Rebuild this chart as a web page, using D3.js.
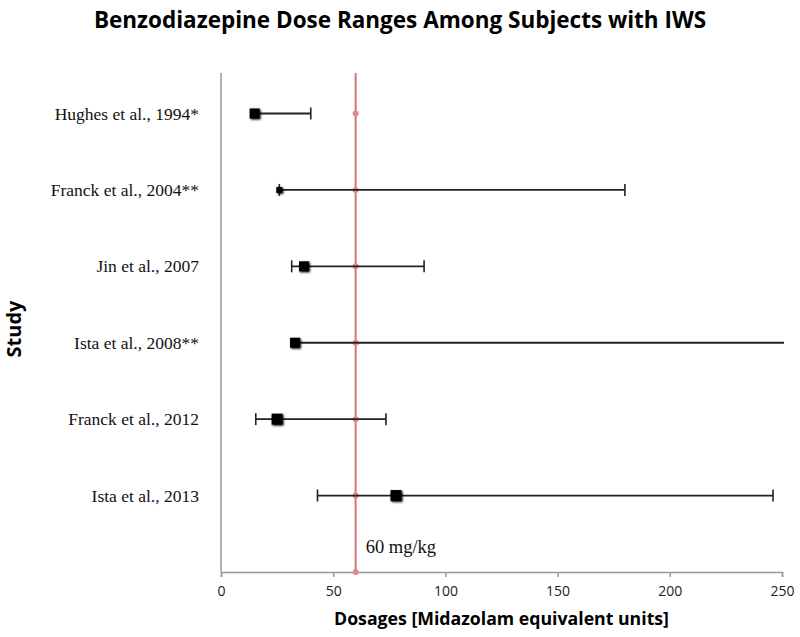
<!DOCTYPE html>
<html>
<head>
<meta charset="utf-8">
<script src="https://cdn.jsdelivr.net/npm/d3@7"></script>
<style>
  body { margin: 0; background: #fff; }
  .study { font-family: "Liberation Serif", "Times New Roman", serif; font-size: 17.5px; fill: #111; }
  .tick text { font-family: "Open Sans", sans-serif; font-size: 14px; fill: #222; }
</style>
</head>
<body>
<div id="chart"></div>
<script>
// study data (values in midazolam equivalent units)
var studies = ["Hughes et al., 1994*", "Franck et al., 2004**", "Jin et al., 2007",
               "Ista et al., 2008**", "Franck et al., 2012", "Ista et al., 2013"];
var doses = [15, 26, 37, 33, 25, 78];
var lows  = [15, 26, 31.5, 33, 15.5, 43];
var highs = [40, 180, 90.5, 260, 73.5, 246];
var refDose = 60;
var xTicks = [0, 50, 100, 150, 200, 250];

// marker size per study (Franck 2004 drawn smaller in the original)
var markerPx = [10, 6, 10, 10, 11, 11];

var width = 800, height = 637;
var margin = {top: 73, right: 18, bottom: 65, left: 221};

var svg = d3.select("#chart").append("svg")
    .attr("width", width)
    .attr("height", height);

var defs = svg.append("defs");
var shadow = defs.append("filter").attr("id", "shadow")
    .attr("x", "-50%").attr("y", "-50%").attr("width", "200%").attr("height", "200%");
shadow.append("feGaussianBlur").attr("in", "SourceAlpha").attr("stdDeviation", 1.2).attr("result", "b");
shadow.append("feOffset").attr("in", "b").attr("dx", 1).attr("dy", 1).attr("result", "o");
var merge = shadow.append("feMerge");
merge.append("feMergeNode").attr("in", "o");
merge.append("feMergeNode").attr("in", "SourceGraphic");

defs.append("clipPath").attr("id", "plotclip")
  .append("rect")
    .attr("x", margin.left)
    .attr("y", margin.top - 10)
    .attr("width", width - margin.left - margin.right + 2)
    .attr("height", height - margin.top - margin.bottom + 20);

var x = d3.scaleLinear()
    .domain([0, 250])
    .range([margin.left, width - margin.right]);

var y = d3.scaleLinear()
    .domain([0, 6.53])
    .range([572, margin.top]);

// row position: first study at the top
function rowY(i) { return y(studies.length - i); }

// title
svg.append("text")
    .attr("x", width / 2)
    .attr("y", 28)
    .attr("text-anchor", "middle")
    .style("font-family", "'Open Sans', sans-serif")
    .style("font-weight", "bold")
    .style("font-size", "22.5px")
    .text("Benzodiazepine Dose Ranges Among Subjects with IWS");

// x axis
var xAxis = svg.append("g")
    .attr("transform", "translate(0," + y(0) + ")")
    .call(d3.axisBottom(x).tickValues(xTicks).tickSize(5).tickPadding(9));
xAxis.select(".domain").attr("stroke", "#999").attr("stroke-width", 1.5);
xAxis.selectAll(".tick line").attr("stroke", "#999").attr("stroke-width", 1.5);

// y axis: plain line
svg.append("line")
    .attr("x1", x(0)).attr("x2", x(0))
    .attr("y1", y(6.53)).attr("y2", y(0))
    .attr("stroke", "#999")
    .attr("stroke-width", 1.5);

// study labels
svg.selectAll("text.study")
    .data(studies)
    .enter().append("text")
    .attr("class", "study")
    .attr("x", margin.left - 22)
    .attr("y", function (d, i) { return rowY(i); })
    .attr("dy", "0.35em")
    .attr("text-anchor", "end")
    .text(function (d) { return d; });

// reference line at 60
var refPoints = d3.range(0, studies.length + 1);
svg.append("line")
    .attr("x1", x(refDose)).attr("x2", x(refDose))
    .attr("y1", y(6.53)).attr("y2", y(0))
    .attr("stroke", "#d4737c")
    .attr("stroke-width", 2);
svg.selectAll("circle.ref")
    .data(refPoints)
    .enter().append("circle")
    .attr("class", "ref")
    .attr("cx", x(refDose))
    .attr("cy", function (d) { return y(d); })
    .attr("r", 3)
    .attr("fill", "#dd8a92");

svg.append("text")
    .attr("x", x(refDose) + 10)
    .attr("y", 553)
    .style("font-family", "'Liberation Serif', serif")
    .style("font-size", "18.5px")
    .attr("fill", "#111")
    .text(refDose + " mg/kg");

// error bars
var bars = svg.append("g").attr("clip-path", "url(#plotclip)");
bars.selectAll("line.range")
    .data(studies)
    .enter().append("line")
    .attr("class", "range")
    .attr("x1", function (d, i) { return x(lows[i]); })
    .attr("x2", function (d, i) { return x(highs[i]); })
    .attr("y1", function (d, i) { return rowY(i); })
    .attr("y2", function (d, i) { return rowY(i); })
    .attr("stroke", "#222")
    .attr("stroke-width", 1.8);

var caps = [];
studies.forEach(function (d, i) {
    if (lows[i] < doses[i]) caps.push({i: i, v: lows[i]});
    caps.push({i: i, v: highs[i]});
});
// Franck 2004 has a cap at its low end under the marker
caps.push({i: 1, v: lows[1]});

bars.selectAll("line.cap")
    .data(caps)
    .enter().append("line")
    .attr("class", "cap")
    .attr("x1", function (d) { return x(d.v); })
    .attr("x2", function (d) { return x(d.v); })
    .attr("y1", function (d) { return rowY(d.i) - 6; })
    .attr("y2", function (d) { return rowY(d.i) + 6; })
    .attr("stroke", "#222")
    .attr("stroke-width", 1.6);

// markers
svg.selectAll("rect.marker")
    .data(studies)
    .enter().append("rect")
    .attr("class", "marker")
    .attr("x", function (d, i) { return x(doses[i]) - markerPx[i] / 2; })
    .attr("y", function (d, i) { return rowY(i) - markerPx[i] / 2; })
    .attr("width", function (d, i) { return markerPx[i]; })
    .attr("height", function (d, i) { return markerPx[i]; })
    .attr("fill", "#000")
    .attr("filter", "url(#shadow)");

// axis titles
svg.append("text")
    .attr("x", (x(0) + x(250)) / 2)
    .attr("y", 625)
    .attr("text-anchor", "middle")
    .style("font-family", "'Open Sans', sans-serif")
    .style("font-weight", "bold")
    .style("font-size", "17.7px")
    .text("Dosages [Midazolam equivalent units]");

svg.append("text")
    .attr("transform", "rotate(-90)")
    .attr("x", -329)
    .attr("y", 21)
    .attr("text-anchor", "middle")
    .style("font-family", "'Open Sans', sans-serif")
    .style("font-weight", "bold")
    .style("font-size", "20px")
    .text("Study");
</script>
</body>
</html>
